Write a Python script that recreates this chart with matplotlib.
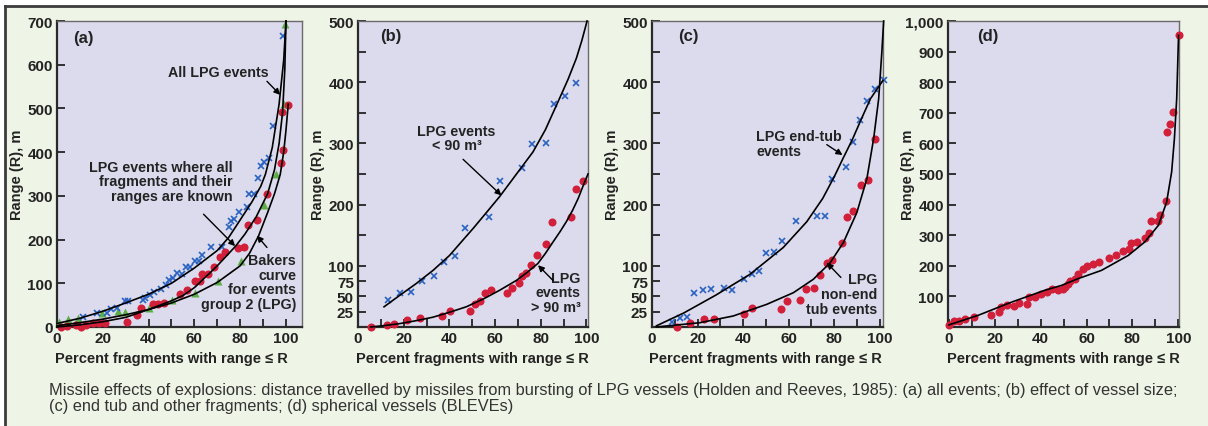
"""Missile range vs percent of fragments (Holden and Reeves, 1985), four panels."""

import numpy as np
import matplotlib
matplotlib.use("Agg")
import matplotlib.pyplot as plt
from matplotlib import font_manager
from matplotlib.lines import Line2D
from matplotlib.patches import Rectangle
from matplotlib.transforms import blended_transform_factory

# ---- data ---------------------------------------------------------------
X_TICKS = [0, 20, 40, 60, 80, 100]
X_MINOR = [10, 30, 50, 70, 90]

# (a) all events
A_BLUE_X = [98.8, 94.3, 92.8, 90.6, 89.1, 87.7, 86.1, 84.0, 83.0, 79.5, 77.4, 75.8,
            75.2, 72.1, 67.3, 63.2, 61.9, 60.1, 57.9, 56.2, 54.5, 52.3, 50.6, 49.1,
            47.7, 45.3, 42.5, 40.6, 38.6, 37.4, 31.1, 29.5, 26.1, 23.6, 22.0, 17.3, 11.4]
A_BLUE_Y = [666, 460, 386, 378, 369, 340, 304, 304, 275, 262, 248, 242,
            228, 183, 183, 165, 151, 151, 137, 137, 121, 124, 112, 108,
            95, 86, 80, 74, 66, 61, 59, 60, 44, 42, 31, 31, 23]
A_RED_X = [101.0, 98.2, 98.9, 97.9, 91.6, 87.2, 83.6, 81.8, 79.2, 73.5, 71.3, 68.6,
           66.1, 63.2, 62.6, 60.1, 56.9, 53.8, 46.6, 44.0, 42.1, 36.7, 34.8, 30.5,
           20.8, 18.3, 15.8, 12.8, 10.3, 8.4, 4.4, 1.8]
A_RED_Y = [507, 492, 405, 376, 304, 244, 233, 183, 181, 172, 159, 137,
           122, 122, 105, 105, 84, 75, 56, 53, 53, 44, 28, 11,
           10, 10, 10, 5, 0, 5, 2, 0]
A_GREEN_X = [99.4, 99.3, 95.5, 90.6, 80.2, 70.4, 60.4, 50.3, 40.3, 29.8, 26.8, 19.8, 9.1, 4.8, 0.7]
A_GREEN_Y = [692, 509, 351, 280, 150, 105, 78, 61, 44, 34, 36, 33, 21, 18, 11]

A_ALL_X = [0, 10, 20, 30, 40, 50, 60, 70, 75, 80, 85, 89, 91, 94, 97, 99, 100]
A_ALL_Y = [8, 20, 36, 55, 75, 100, 135, 175, 205, 245, 285, 322, 349, 410, 510, 610, 700]
A_KNOWN_X = [0, 10, 20, 30, 40, 50, 55, 60, 70, 78, 82, 87, 92, 95, 97, 98.5, 99.5, 100]
A_KNOWN_Y = [0, 5, 12, 22, 40, 60, 72, 90, 140, 185, 212, 252, 305, 360, 420, 490, 590, 700]
A_BAKER_X = [0, 10, 20, 30, 40, 50, 60, 70, 80, 84, 88, 92, 95, 97.5, 99, 100, 101]
A_BAKER_Y = [3, 10, 18, 28, 40, 55, 75, 102, 140, 168, 208, 262, 305, 349, 400, 450, 510]

A_YTICKS = [0, 100, 200, 300, 400, 500, 600, 700]
A_YLABELS = ["0", "100", "200", "300", "400", "500", "600", "700"]

# (b) vessel size
B_SMALL_X = [13.1, 18.2, 23.4, 28.0, 33.1, 37.5, 42.6, 47.0, 57.4, 62.0, 72.0, 76.2,
             82.2, 85.8, 90.5, 95.3]
B_SMALL_Y = [44, 55, 57, 75, 83, 107, 116, 162, 179, 238, 259, 299, 301, 364, 378, 399]
B_LARGE_X = [5.5, 12.7, 15.8, 21.6, 27.0, 36.9, 40.1, 48.9, 51.1, 53.4, 55.8, 58.4,
             65.1, 67.4, 70.4, 71.8, 73.7, 75.6, 78.4, 82.5, 85.0, 93.4, 95.3, 98.5]
B_LARGE_Y = [0, 4, 5, 12, 15, 18, 26, 26, 38, 42, 56, 60,
             56, 64, 72, 83, 89, 102, 117, 135, 171, 180, 226, 238]
B_SMALL_FIT_X = [11.4, 18, 25.5, 33, 40.1, 45, 50.4, 56, 62, 69, 76.6, 82, 88.3, 92, 95.6, 98, 100.3]
B_SMALL_FIT_Y = [33, 51, 71, 93, 117, 138, 161, 186, 213, 248, 286, 322, 374, 405, 439, 468, 500]
B_LARGE_FIT_X = [5.5, 12, 18.2, 25, 32.8, 40, 47.4, 55, 62, 69.3, 74, 78.8, 82, 85.4,
                 88.5, 91.2, 94, 96.4, 98.5, 100.7]
B_LARGE_FIT_Y = [0, 2.5, 5.5, 10, 16, 24, 33, 46, 60, 76, 89, 104, 120, 139,
                 156, 172, 191, 210, 230, 250]

BC_YTICKS = [25, 50, 75, 100, 200, 300, 400, 500]
BC_YLABELS = ["25", "50", "75", "100", "200", "300", "400", "500"]
BC_YMINOR = [150, 250, 350, 450]

# (c) end tub vs other fragments
C_END_X = [9.0, 12.2, 15.4, 18.4, 22.5, 25.8, 31.6, 35.0, 40.5, 44.0, 47.0, 49.9,
           53.7, 57.0, 63.1, 72.5, 76.1, 79.0, 85.3, 88.1, 91.2, 94.4, 97.8, 101.8]
C_END_Y = [8, 14, 17, 56, 61, 62, 63, 61, 78, 87, 92, 121,
           123, 140, 174, 182, 182, 242, 261, 302, 338, 369, 389, 403]
C_OTHER_X = [11.0, 16.6, 22.9, 27.3, 40.4, 43.8, 56.5, 59.2, 65.1, 67.7, 71.1, 73.6,
             76.8, 79.3, 83.4, 85.8, 88.5, 91.9, 94.9, 98.1]
C_OTHER_Y = [0, 7, 13, 13, 21, 31, 29, 43, 44, 62, 63, 85,
             105, 109, 138, 179, 189, 232, 241, 308]
C_END_FIT_X = [2, 14, 28, 43, 57.7, 68, 75, 80, 84, 88, 92, 96, 101.5]
C_END_FIT_Y = [2, 23, 52, 86, 130, 172, 210, 245, 276, 306, 340, 373, 403]
C_OTHER_FIT_X = [1.9, 21, 35.7, 50.4, 62.1, 70.9, 78.3, 84.1, 90, 94.4, 97.4, 99.6, 101, 101.8]
C_OTHER_FIT_Y = [0, 7, 18, 37, 56, 78, 105, 138, 187, 242, 308, 373, 450, 500]

# (d) spherical vessels (BLEVEs)
D_X = [0.0, 2.2, 4.2, 6.8, 10.9, 18.5, 21.8, 22.6, 25.3, 28.2, 30.4, 34.2, 34.9, 37.6,
       40.3, 42.9, 45.1, 47.6, 49.8, 50.8, 51.7, 53.0, 54.9, 56.3, 58.5, 60.3, 62.9,
       65.4, 69.6, 72.9, 75.7, 78.6, 79.2, 82.1, 85.4, 87.2, 87.9, 91.0, 92.1, 94.6,
       94.9, 96.5, 97.7, 100.1]
D_Y = [7, 18, 20, 26, 32, 40, 48, 65, 73, 69, 78, 76, 99, 97,
       107, 116, 124, 122, 123, 131, 139, 149, 158, 174, 188, 198, 207,
       214, 226, 234, 250, 256, 274, 278, 292, 308, 345, 345, 365, 412,
       638, 663, 703, 953]
D_FIT_X = [0, 12.7, 27.2, 41.8, 49.1, 56.3, 66.5, 78.2, 85.4, 91.3, 94.9, 97.1, 98.3, 99.3, 100.1]
D_FIT_Y = [7, 38, 81, 120, 136, 158, 185, 234, 278, 332, 408, 507, 616, 747, 953]

D_YTICKS = [100, 200, 300, 400, 500, 600, 700, 800, 900, 1000]
D_YLABELS = ["100", "200", "300", "400", "500", "600", "700", "800", "900", "1,000"]

CAPTION = ("Missile effects of explosions: distance travelled by missiles from bursting of "
           "LPG vessels (Holden and Reeves, 1985): (a) all events; (b) effect of vessel size;\n"
           "(c) end tub and other fragments; (d) spherical vessels (BLEVEs)")

# ---- look ----------------------------------------------------------------
W, H, DPI = 1208, 427, 100
AX_TOP, AX_BOTTOM = 22, 328

BG_FIG = "#eef4e6"
BG_AX = "#dcdbee"
INK = "#232323"
RED = "#d21f3a"
BLUE = "#2a62c2"
GREEN = "#5bae46"

# no condensed face is guaranteed here, so sizes are set from the widths
_installed = {f.name for f in font_manager.fontManager.ttflist}
NARROW = "Liberation Sans Narrow" if "Liberation Sans Narrow" in _installed else "Liberation Sans"
plt.rcParams["font.family"] = [NARROW, "DejaVu Sans"]
plt.rcParams["font.weight"] = "bold"
plt.rcParams["axes.labelweight"] = "bold"

TICK_FS = 11
LABEL_FS = 10.5
NOTE_FS = 10.3

ARROW = dict(arrowstyle="-|>", color="black", lw=1.0, mutation_scale=9,
             shrinkA=0, shrinkB=0)


def _axes(fig, left, right):
    return fig.add_axes([left / W, 1 - AX_BOTTOM / H,
                         (right - left) / W, (AX_BOTTOM - AX_TOP) / H])


def _style(ax, xlim, ylim, yticks, ylabels, yminor=None):
    ax.set_facecolor(BG_AX)
    ax.set_xlim(*xlim)
    ax.set_ylim(*ylim)
    ax.set_xticks(X_TICKS, [str(t) for t in X_TICKS])
    ax.set_xticks(X_MINOR, minor=True)
    ax.set_yticks(yticks, ylabels)
    if yminor:
        ax.set_yticks(yminor, minor=True)
    ax.tick_params(which="both", direction="in", length=6, width=1.3, color=INK)
    ax.tick_params(which="major", labelsize=TICK_FS, pad=3, labelcolor=INK)
    for side in ("left", "bottom"):
        ax.spines[side].set_color("#2a2a2a")
        ax.spines[side].set_linewidth(1.6)
    for side in ("top", "right"):
        ax.spines[side].set_color("#6a6a6a")
        ax.spines[side].set_linewidth(1.0)

    width_px = ax.get_position().width * W
    ax.set_ylabel("Range (R), m", fontsize=LABEL_FS, color=INK)
    ax.yaxis.set_label_coords(-33 / width_px, 0.5)
    ax.set_xlabel("Percent fragments with range \u2264 R", fontsize=LABEL_FS, color=INK)
    tr = blended_transform_factory(ax.transData, ax.transAxes)
    ax.xaxis.set_label_coords(50, -24 / (AX_BOTTOM - AX_TOP), transform=tr)


def _tag(ax, x, y, s):
    ax.text(x, y, s, fontsize=12, fontweight="bold", color=INK, va="center",
            ha="left", family=["Liberation Sans", "DejaVu Sans"])


def _note(ax, x, y, s, ha):
    ax.text(x, y, s, ha=ha, va="center", fontsize=NOTE_FS, color=INK, linespacing=1.05)


def _pts(ax, x, y, kind):
    if kind == "red":
        ax.plot(x, y, "o", ms=5.8, color=RED, mec="none", clip_on=False, zorder=3)
    elif kind == "blue":
        ax.plot(x, y, "x", ms=4.3, mew=1.2, color=BLUE, clip_on=False, zorder=3)
    else:
        ax.plot(x, y, "^", ms=6.3, color=GREEN, mec="none", clip_on=False, zorder=3)


def _curve(ax, x, y):
    ax.plot(x, y, "-", color="black", lw=1.2, clip_on=False, zorder=4)


def panel_a(fig):
    ax = _axes(fig, 57, 302)
    _style(ax, (0, 107), (0, 700), A_YTICKS, A_YLABELS)
    _pts(ax, A_GREEN_X, A_GREEN_Y, "green")
    _pts(ax, A_BLUE_X, A_BLUE_Y, "blue")
    _pts(ax, A_RED_X, A_RED_Y, "red")
    for cx, cy in ((A_ALL_X, A_ALL_Y), (A_KNOWN_X, A_KNOWN_Y), (A_BAKER_X, A_BAKER_Y)):
        _curve(ax, cx, cy)
    _tag(ax, 7, 663, "(a)")
    _note(ax, 70.5, 584, "All LPG events", "center")
    ax.annotate("", xy=(97.5, 531), xytext=(91.7, 562), arrowprops=ARROW)
    _note(ax, 76.7, 333, "LPG events where all\nfragments and their\nranges are known", "right")
    ax.annotate("", xy=(77.8, 185), xytext=(64, 258), arrowprops=ARROW)
    _note(ax, 104.4, 103, "Bakers\ncurve\nfor events\ngroup 2 (LPG)", "right")
    ax.annotate("", xy=(87.3, 209), xytext=(91.7, 182), arrowprops=ARROW)


def panel_b(fig):
    ax = _axes(fig, 358, 588)
    _style(ax, (0, 100.7), (0, 500), BC_YTICKS, BC_YLABELS, BC_YMINOR)
    _pts(ax, B_SMALL_X, B_SMALL_Y, "blue")
    _pts(ax, B_LARGE_X, B_LARGE_Y, "red")
    _curve(ax, B_SMALL_FIT_X, B_SMALL_FIT_Y)
    _curve(ax, B_LARGE_FIT_X, B_LARGE_FIT_Y)
    _tag(ax, 9.5, 477, "(b)")
    _note(ax, 43.1, 309, "LPG events\n< 90 m\u00b3", "center")
    ax.annotate("", xy=(62.8, 215), xytext=(46, 274), arrowprops=ARROW)
    _note(ax, 97.5, 57, "LPG\nevents\n> 90 m\u00b3", "right")
    ax.annotate("", xy=(78.8, 101), xytext=(85.4, 76), arrowprops=ARROW)


def panel_c(fig):
    ax = _axes(fig, 652, 883)
    _style(ax, (0, 101.5), (0, 500), BC_YTICKS, BC_YLABELS, BC_YMINOR)
    _pts(ax, C_END_X, C_END_Y, "blue")
    _pts(ax, C_OTHER_X, C_OTHER_Y, "red")
    _curve(ax, C_END_FIT_X, C_END_FIT_Y)
    _curve(ax, C_OTHER_FIT_X, C_OTHER_FIT_Y)
    _tag(ax, 11.3, 476, "(c)")
    _note(ax, 45.7, 300, "LPG end-tub\nevents", "left")
    ax.annotate("", xy=(83.7, 281), xytext=(76.8, 298), arrowprops=ARROW)
    _note(ax, 99.1, 54, "LPG\nnon-end\ntub events", "right")
    ax.annotate("", xy=(76.8, 105), xytext=(83, 81), arrowprops=ARROW)


def panel_d(fig):
    ax = _axes(fig, 948, 1179)
    _style(ax, (-0.4, 100.3), (0, 1000), D_YTICKS, D_YLABELS)
    _pts(ax, D_X, D_Y, "red")
    _curve(ax, D_FIT_X, D_FIT_Y)
    _tag(ax, 12.1, 953, "(d)")


def main():
    fig = plt.figure(figsize=(W / DPI, H / DPI), dpi=DPI)
    fig.patch.set_facecolor("white")
    # green panel with a dark rule along its top and left edges only
    x0, y0 = 5 / W, 1 - 7 / H
    fig.add_artist(Rectangle((x0, 0), 1 - x0, y0, transform=fig.transFigure,
                             facecolor=BG_FIG, edgecolor="none", zorder=-5))
    fig.add_artist(Line2D([x0, 1], [y0, y0], transform=fig.transFigure,
                          color="#3c3c3c", lw=2.0, zorder=-4))
    fig.add_artist(Line2D([x0, x0], [0, y0], transform=fig.transFigure,
                          color="#3c3c3c", lw=2.0, zorder=-4))

    panel_a(fig)
    panel_b(fig)
    panel_c(fig)
    panel_d(fig)

    fig.text(49 / W, 1 - 383 / H, CAPTION, ha="left", va="top", fontsize=11.8,
             fontweight="normal", color="#333333", linespacing=1.08,
             family=["Liberation Sans", "DejaVu Sans"])

    fig.savefig("out.png", dpi=DPI, facecolor=fig.get_facecolor())
    plt.close(fig)


if __name__ == "__main__":
    main()
